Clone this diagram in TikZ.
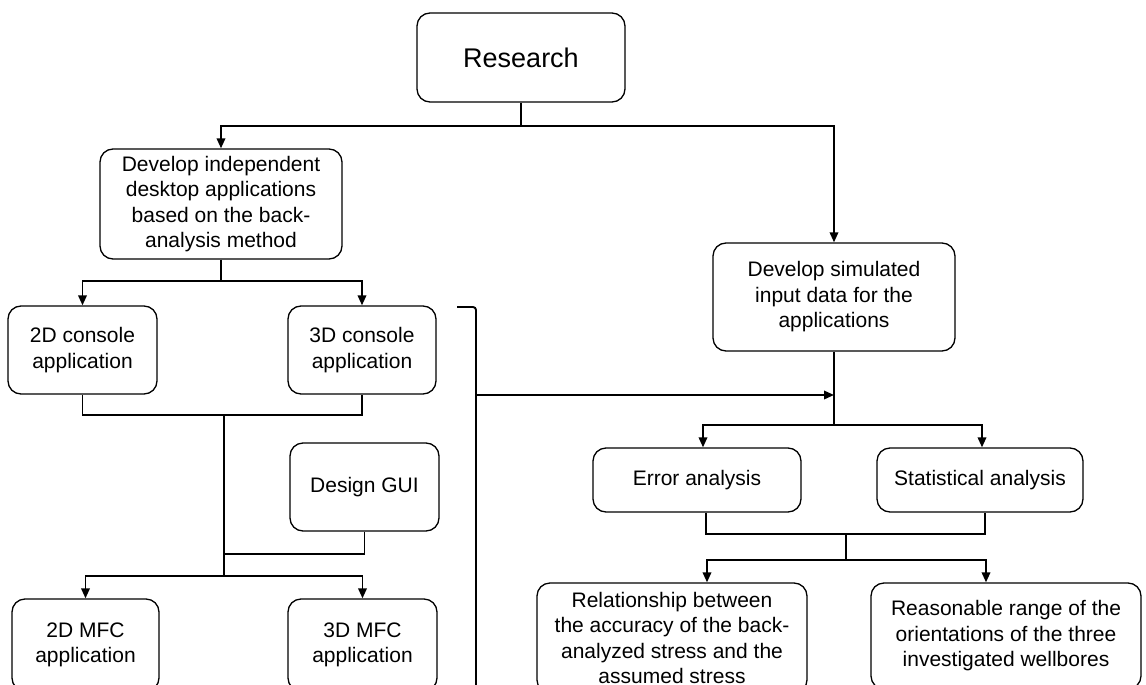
\documentclass[tikz,border=0pt]{standalone}
\usepackage{fontspec}
\setmainfont{Liberation Sans}
\usetikzlibrary{arrows.meta,calc}
\newcommand\boxfont{\fontsize{21}{25.5}\selectfont}
\newcommand\titlefont{\fontsize{27}{32}\selectfont}
\tikzset{
  box/.style={draw, rounded corners=13pt, line width=1.3pt, align=center,
    inner sep=0pt, font=\boxfont, fill=white},
  link/.style={line width=1.9pt},
  arr/.style={link, -{Triangle[width=8.5pt,length=10pt]}},
}
\begin{document}
\begin{tikzpicture}[x=1pt,y=-1pt]
\useasboundingbox (0,0) rectangle (1146,685);
\clip (0,0) rectangle (1146,685);
\fill[white] (0,0) rectangle (1146,685);

% boxes
\node[box, minimum width=208pt, minimum height=89pt, font=\titlefont] (res) at (521,57.5) {Research};
\node[box, minimum width=242pt, minimum height=110pt] (dev) at (221,204)
  {Develop independent\\desktop applications\\based on the back-\\analysis method};
\node[box, minimum width=242pt, minimum height=108pt] (sim) at (834,297)
  {Develop simulated\\input data for the\\applications};
\node[box, minimum width=149pt, minimum height=88pt] (c2) at (82.5,350) {2D console\\application};
\node[box, minimum width=148pt, minimum height=88pt] (c3) at (362,350) {3D console\\application};
\node[box, minimum width=149pt, minimum height=88pt] (gui) at (364.5,487) {Design GUI};
\node[box, minimum width=147pt, minimum height=92pt] (m2) at (85.5,645) {2D MFC\\application};
\node[box, minimum width=149pt, minimum height=92pt] (m3) at (362.5,645) {3D MFC\\application};
\node[box, minimum width=208pt, minimum height=64pt] (err) at (697,480) {Error analysis};
\node[box, minimum width=206pt, minimum height=64pt] (stat) at (980,480) {Statistical analysis};
\node[box, minimum width=270pt, minimum height=110pt] (rel) at (672,638)
  {Relationship between\\the accuracy of the back-\\analyzed stress and the\\assumed stress};
\node[box, minimum width=270pt, minimum height=106pt] (rea) at (1006,636)
  {Reasonable range of the\\orientations of the three\\investigated wellbores};

% junction points
\coordinate (jr) at (521,126);
\coordinate (jd) at (221,281);
\coordinate (jc) at (224,415);
\coordinate (jg) at (224,554);
\coordinate (jm) at (224,576);
\coordinate (js) at (834,425);
\coordinate (je) at (846,534);
\coordinate (jo) at (846,560);
\coordinate (bt) at (457,307);
\coordinate (bc) at (476,307);
\coordinate (bb) at (476,700);
\coordinate (bm) at (476,395);
\coordinate (sm) at (834,395);

% research branches
\draw[link] (res.south) -- (jr);
\draw[arr] (jr) -| (dev.north);
\draw[arr] (jr) -| (sim.north);

% desktop applications
\draw[link] (dev.south) -- (jd);
\draw[arr] (jd) -| (c2.north);
\draw[arr] (jd) -| (c3.north);
\draw[link] (c2.south) |- (jc) -| (c3.south);
\draw[link] (jc) -- (jm);
\draw[link] (gui.south) |- (jg);
\draw[arr] (jm) -| (m2.north);
\draw[arr] (jm) -| (m3.north);

% bracket feeding the simulated data
\draw[link, rounded corners=3pt] (bt) -- (bc) -- (bb);
\draw[arr] (bm) -- (sm);

% analyses
\draw[link] (sim.south) -- (js);
\draw[arr] (js) -| ([xshift=6pt]err.north);
\draw[arr] (js) -| ([xshift=2pt]stat.north);
\draw[link] ([xshift=9pt]err.south) |- (je) -| ([xshift=5pt]stat.south);
\draw[link] (je) -- (jo);
\draw[arr] (jo) -| ([xshift=35pt]rel.north);
\draw[arr] (jo) -| ([xshift=-20pt]rea.north);
\end{tikzpicture}
\end{document}
